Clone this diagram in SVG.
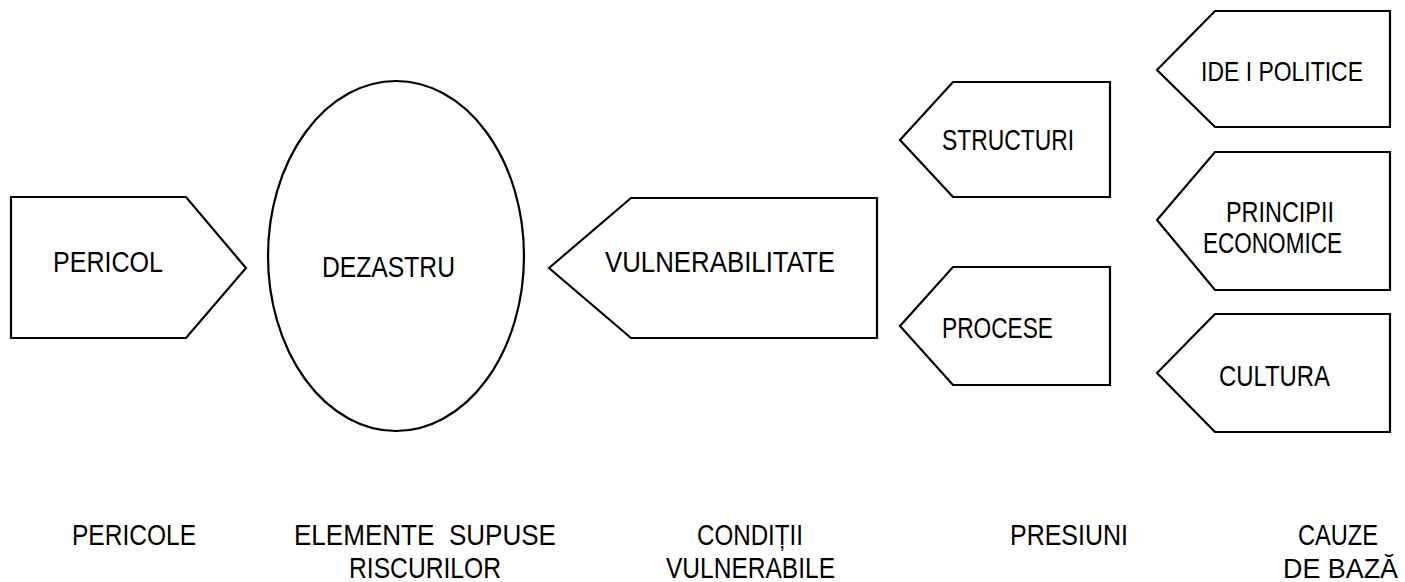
<svg xmlns="http://www.w3.org/2000/svg" width="1405" height="582" viewBox="0 0 1405 582">
<style>
.s{fill:#fff;stroke:#000;stroke-width:2.2;stroke-linejoin:miter}
text{font-family:"Liberation Sans",Arial,sans-serif;font-size:29.5px;fill:#000}
.n{font-size:28px}
</style>
<rect width="1405" height="582" fill="#fff"/>
<g id="pericol">
<path class="s" d="M11,197 H186 L246,268 L186,338 H11 Z"/>
<text x="53" y="272" textLength="110" lengthAdjust="spacingAndGlyphs">PERICOL</text>
</g>
<g id="dezastru">
<ellipse class="s" cx="396" cy="256" rx="128" ry="175"/>
<text x="322" y="277" textLength="133" lengthAdjust="spacingAndGlyphs">DEZASTRU</text>
</g>
<g id="vulnerabilitate">
<path class="s" d="M549,268 L631,198 H877 V338 H631 Z"/>
<text x="605" y="272" textLength="230" lengthAdjust="spacingAndGlyphs">VULNERABILITATE</text>
</g>
<g id="structuri">
<path class="s" d="M900,140 L953,82 H1110 V197 H953 Z"/>
<text x="942" y="150" textLength="132" lengthAdjust="spacingAndGlyphs">STRUCTURI</text>
</g>
<g id="procese">
<path class="s" d="M900,326 L953,267 H1110 V385 H953 Z"/>
<text x="942" y="338" textLength="111" lengthAdjust="spacingAndGlyphs">PROCESE</text>
</g>
<g id="idei-politice">
<path class="s" d="M1157,70 L1215,11 H1390 V127 H1215 Z"/>
<text class="n" x="1201" y="81" textLength="162" lengthAdjust="spacingAndGlyphs">IDE I POLITICE</text>
</g>
<g id="principii-economice">
<path class="s" d="M1157,220 L1215,152 H1390 V290 H1215 Z"/>
<text x="1226" y="222" textLength="108" lengthAdjust="spacingAndGlyphs">PRINCIPII</text>
<text x="1203" y="253" textLength="139" lengthAdjust="spacingAndGlyphs">ECONOMICE</text>
</g>
<g id="cultura">
<path class="s" d="M1157,373 L1215,314 H1390 V432 H1215 Z"/>
<text x="1219" y="386" textLength="111" lengthAdjust="spacingAndGlyphs">CULTURA</text>
</g>
<g id="connectors"></g>
<g id="labels">
<text x="72" y="545" textLength="124" lengthAdjust="spacingAndGlyphs">PERICOLE</text>
<text x="294" y="545" textLength="262" lengthAdjust="spacingAndGlyphs" xml:space="preserve">ELEMENTE  SUPUSE</text>
<text x="349" y="578" textLength="152" lengthAdjust="spacingAndGlyphs">RISCURILOR</text>
<text x="697" y="545" textLength="106" lengthAdjust="spacingAndGlyphs">CONDIȚII</text>
<text x="666" y="578" textLength="169" lengthAdjust="spacingAndGlyphs">VULNERABILE</text>
<text x="1010" y="545" textLength="118" lengthAdjust="spacingAndGlyphs">PRESIUNI</text>
<text x="1298" y="545" textLength="80" lengthAdjust="spacingAndGlyphs">CAUZE</text>
<text class="n" x="1283" y="578" textLength="115" lengthAdjust="spacingAndGlyphs">DE BAZĂ</text>
</g>
</svg>
